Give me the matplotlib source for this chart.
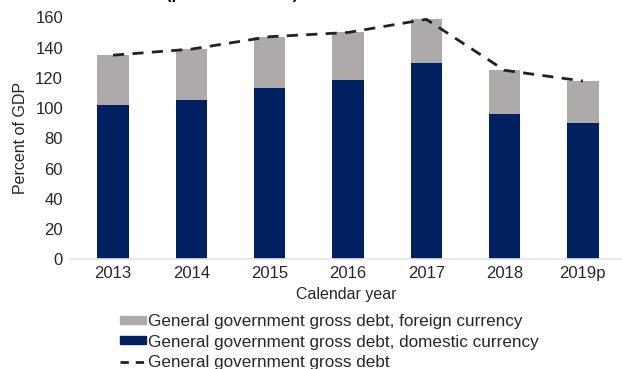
import matplotlib
matplotlib.use("Agg")
import matplotlib.pyplot as plt
from matplotlib.patches import Patch
from matplotlib.lines import Line2D
import numpy as np

plt.rcParams["font.family"] = ["Liberation Sans", "DejaVu Sans"]

years = ["2013", "2014", "2015", "2016", "2017", "2018", "2019p"]
domestic = [102.3, 105.1, 113.3, 118.8, 130.0, 96.0, 90.4]
total = [135.0, 139.0, 147.2, 150.0, 158.7, 125.0, 117.9]
foreign = [t - d for t, d in zip(total, domestic)]

NAVY = "#002060"
GREY = "#AEAAAA"
TXT = "#262626"

fig = plt.figure(figsize=(6.22, 3.69), dpi=100)
ax = fig.add_axes([70 / 622, 0.297, 1 - 70 / 622, 0.656])

x = np.arange(len(years))
ax.bar(x, domestic, width=0.4, color=NAVY)
ax.bar(x, foreign, width=0.4, bottom=domestic, color=GREY)
ax.plot(x, total, color="#222222", lw=2, ls=(0, (4, 3)))

ax.set_xlim(-0.55, 6.5)
ax.set_ylim(0, 160)
ax.set_yticks(range(0, 161, 20))
ax.set_xticks(x)
ax.set_xticklabels(years)
ax.tick_params(length=0, labelsize=12, colors=TXT, pad=5)
for s in ["top", "right", "left"]:
    ax.spines[s].set_visible(False)
ax.spines["bottom"].set_color("#E6E6E6")
ax.spines["bottom"].set_linewidth(1.2)

ax.set_xlabel("Calendar year", fontsize=11.5, color=TXT, labelpad=4)
ax.set_ylabel("Percent of GDP", fontsize=11.5, color=TXT, labelpad=5)

# title sits mostly above the canvas
fig.text(0.373, 1.004, "(percent of GDP)", ha="center", va="baseline",
         fontsize=12, fontweight="bold", color="black")

handles = [
    Patch(color=GREY, label="General government gross debt, foreign currency"),
    Patch(color=NAVY, label="General government gross debt, domestic currency"),
    Line2D([], [], color="#222222", lw=2, ls=(0, (3, 2.5)),
           label="General government gross debt"),
]
fig.legend(handles=handles, loc="upper left", bbox_to_anchor=(120 / 622, 0.148),
           frameon=False, fontsize=12.3, labelcolor=TXT, handlelength=1.5,
           handleheight=0.35, handletextpad=0.12, labelspacing=0.3,
           borderpad=0, borderaxespad=0)

fig.savefig("out.png", dpi=100)
